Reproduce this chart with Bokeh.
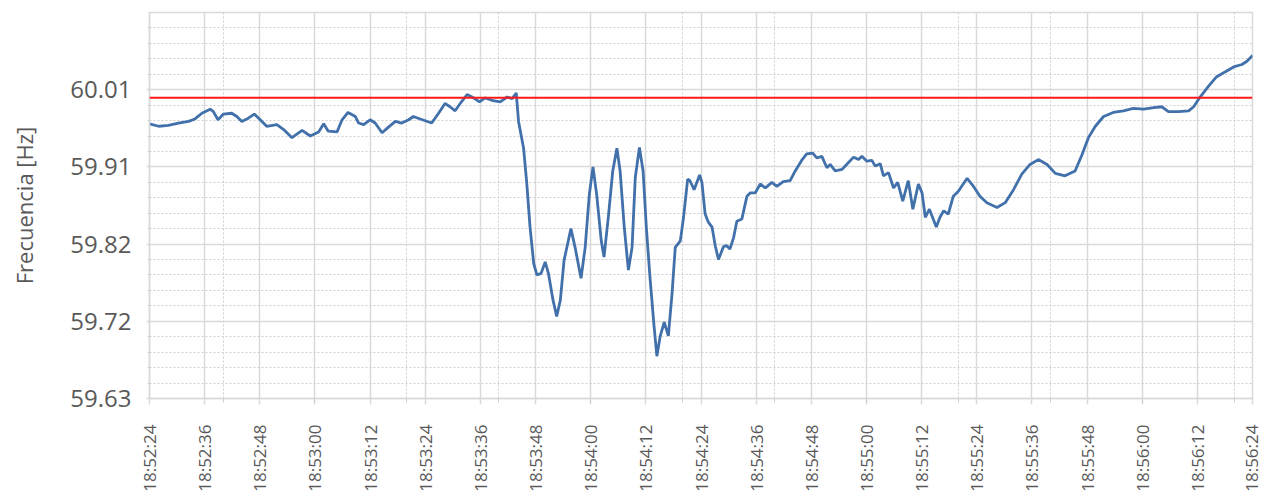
import math
from bokeh.plotting import figure
from bokeh.models import FixedTicker, Range1d, Span
from bokeh.embed import file_html
from bokeh.resources import INLINE

# seconds elapsed since 18:52:24
time_s = [0.0, 2.0, 4.1, 6.3, 8.5, 9.9, 11.4, 13.2, 13.9, 14.9, 16.1, 17.9, 19.0, 20.1, 21.5, 22.8,
          24.1, 25.5, 27.7, 29.2, 31.0, 33.2, 35.0, 36.8, 37.9, 38.9, 40.8, 41.9, 43.2, 44.8, 45.5,
          46.6, 48.0, 49.1, 50.6, 52.0, 53.5, 54.9, 56.4, 57.4, 58.9, 61.4, 62.9, 64.3, 65.4, 66.5,
          67.6, 69.1, 70.5, 71.8, 73.0, 74.5, 76.3, 77.8, 78.9, 79.8, 80.3, 81.4, 82.1, 82.8, 83.6,
          84.3, 85.2, 86.1, 86.8, 87.8, 88.6, 89.4, 90.2, 91.7, 92.6, 93.9, 94.8, 95.7, 96.5, 97.3,
          98.3, 98.9, 99.9, 100.8, 101.7, 102.4, 103.3, 104.2, 105.0, 105.7, 106.6, 107.4, 108.1,
          108.9, 109.8, 110.4, 111.1, 112.0, 112.9, 113.7, 114.4, 115.5, 116.2, 117.1, 117.6, 118.5,
          119.7, 120.2, 120.9, 121.6, 122.4, 123.1, 123.8, 124.9, 125.6, 126.3, 127.1, 127.8, 128.9,
          130.0, 130.7, 131.8, 132.9, 134.0, 135.4, 136.5, 137.9, 139.4, 140.5, 141.9, 143.0, 144.3,
          145.2, 146.3, 147.4, 148.1, 149.2, 150.7, 151.7, 153.2, 154.3, 155.0, 156.1, 157.2, 157.9,
          159.0, 159.7, 160.8, 161.9, 162.8, 163.9, 165.1, 166.1, 167.3, 168.1, 168.8, 169.7, 171.2,
          172.0, 172.8, 173.8, 174.9, 176.0, 177.9, 179.3, 180.7, 182.2, 184.4, 186.2, 188.0, 189.8,
          191.6, 193.4, 195.3, 197.1, 199.2, 201.4, 202.9, 204.3, 205.8, 207.6, 209.7, 211.9, 214.1,
          216.3, 218.5, 220.3, 221.7, 223.9, 226.1, 227.2, 228.6, 230.4, 232.2, 234.1, 235.9, 237.7,
          238.8, 240.0]

freq_hz = [59.968, 59.965, 59.966, 59.969, 59.971, 59.974, 59.981, 59.986, 59.983, 59.973, 59.980,
           59.981, 59.977, 59.971, 59.975, 59.980, 59.973, 59.965, 59.967, 59.961, 59.951, 59.960,
           59.953, 59.958, 59.968, 59.959, 59.958, 59.973, 59.982, 59.977, 59.969, 59.967, 59.973,
           59.969, 59.957, 59.964, 59.971, 59.969, 59.973, 59.977, 59.974, 59.969, 59.981, 59.993,
           59.989, 59.984, 59.993, 60.004, 60.000, 59.995, 60.000, 59.997, 59.995, 60.001, 59.999,
           60.006, 59.971, 59.938, 59.894, 59.841, 59.796, 59.782, 59.784, 59.798, 59.784, 59.751,
           59.731, 59.751, 59.800, 59.839, 59.816, 59.778, 59.816, 59.881, 59.915, 59.881, 59.824,
           59.804, 59.857, 59.910, 59.938, 59.910, 59.841, 59.788, 59.816, 59.902, 59.939, 59.910,
           59.841, 59.779, 59.718, 59.682, 59.706, 59.724, 59.707, 59.759, 59.816, 59.824, 59.853,
           59.900, 59.898, 59.887, 59.905, 59.896, 59.857, 59.847, 59.841, 59.818, 59.801, 59.817,
           59.818, 59.814, 59.828, 59.848, 59.851, 59.879, 59.883, 59.883, 59.894, 59.889, 59.896,
           59.891, 59.897, 59.898, 59.910, 59.923, 59.931, 59.932, 59.926, 59.928, 59.914, 59.918,
           59.910, 59.912, 59.918, 59.927, 59.924, 59.928, 59.922, 59.923, 59.916, 59.919, 59.904,
           59.908, 59.889, 59.896, 59.873, 59.898, 59.863, 59.894, 59.883, 59.853, 59.863, 59.841,
           59.853, 59.861, 59.857, 59.879, 59.885, 59.901, 59.891, 59.879, 59.871, 59.865, 59.871,
           59.887, 59.906, 59.918, 59.924, 59.918, 59.907, 59.904, 59.910, 59.930, 59.951, 59.965,
           59.977, 59.982, 59.984, 59.987, 59.986, 59.988, 59.989, 59.983, 59.983, 59.984, 59.989,
           60.001, 60.014, 60.026, 60.032, 60.038, 60.041, 60.045, 60.052]

nominal_hz = 60.0

x_tick_s = [0, 12, 24, 36, 48, 60, 72, 84, 96, 108, 120, 132, 144, 156, 168, 180, 192, 204, 216, 228, 240]
x_tick_labels = ["18:52:24", "18:52:36", "18:52:48", "18:53:00", "18:53:12", "18:53:24", "18:53:36",
                 "18:53:48", "18:54:00", "18:54:12", "18:54:24", "18:54:36", "18:54:48", "18:55:00",
                 "18:55:12", "18:55:24", "18:55:36", "18:55:48", "18:56:00", "18:56:12", "18:56:24"]
x_minor_s = [16, 36, 56, 76, 96, 116, 136, 156, 176, 196, 216, 236]

y_ticks = [59.63, 59.725, 59.82, 59.915, 60.01]
y_tick_labels = ["59.63", "59.72", "59.82", "59.91", "60.01"]
y_minor = [59.649, 59.668, 59.687, 59.706, 59.744, 59.763, 59.782, 59.801,
           59.839, 59.858, 59.877, 59.896, 59.934, 59.953, 59.972, 59.991,
           60.029, 60.048, 60.067, 60.086]

FONT = "Open Sans"
GRID = "#d9d9d9"
TXT = "#595959"

p = figure(width=1262, height=494, output_backend="svg", toolbar_location=None,
           x_range=Range1d(0, 240), y_range=Range1d(59.63, 60.105),
           min_border_left=149, min_border_right=10, min_border_top=12, min_border_bottom=95)

xt = FixedTicker(ticks=x_tick_s, minor_ticks=x_minor_s)
yt = FixedTicker(ticks=y_ticks, minor_ticks=y_minor)
p.xaxis.ticker = xt
p.yaxis.ticker = yt
p.xgrid.ticker = xt
p.ygrid.ticker = yt

p.xaxis.major_label_overrides = {t: l for t, l in zip(x_tick_s, x_tick_labels)}
p.yaxis.major_label_overrides = {t: l for t, l in zip(y_ticks, y_tick_labels)}

for g in (p.xgrid, p.ygrid):
    g.grid_line_color = GRID
    g.grid_line_width = 1.5
    g.minor_grid_line_color = "#cfcfcf"
    g.minor_grid_line_width = 1
    g.minor_grid_line_dash = "2 2"

p.outline_line_color = GRID
p.outline_line_width = 1.5
p.background_fill_color = "white"
p.border_fill_color = "white"

for ax in (p.xaxis, p.yaxis):
    ax.axis_line_color = GRID
    ax.axis_line_width = 1.5
    ax.major_tick_line_color = GRID
    ax.major_tick_line_width = 1.5
    ax.minor_tick_line_color = "#cfcfcf"
    ax.major_tick_in = 0
    ax.minor_tick_in = 0
    ax.major_label_text_font = FONT
    ax.major_label_text_color = TXT

p.xaxis.major_tick_out = 6
p.xaxis.minor_tick_out = 4
p.xaxis.major_label_orientation = math.pi / 2
p.xaxis.major_label_text_font_size = "17px"
p.xaxis.major_label_standoff = 20

p.yaxis.major_tick_out = 3
p.yaxis.minor_tick_out = 2
p.yaxis.major_label_text_font_size = "24px"
p.yaxis.major_label_standoff = 15
p.yaxis.axis_label = "Frecuencia [Hz]"
p.yaxis.axis_label_text_font = FONT
p.yaxis.axis_label_text_font_style = "normal"
p.yaxis.axis_label_text_font_size = "22px"
p.yaxis.axis_label_text_color = TXT
p.yaxis.axis_label_standoff = 28

p.add_layout(Span(location=nominal_hz, dimension="width", line_color="#ff1a1a", line_width=2))
p.line(time_s, freq_hz, line_color="#4170aa", line_width=2.8)

open("out.html", "w").write(file_html(p, INLINE))
